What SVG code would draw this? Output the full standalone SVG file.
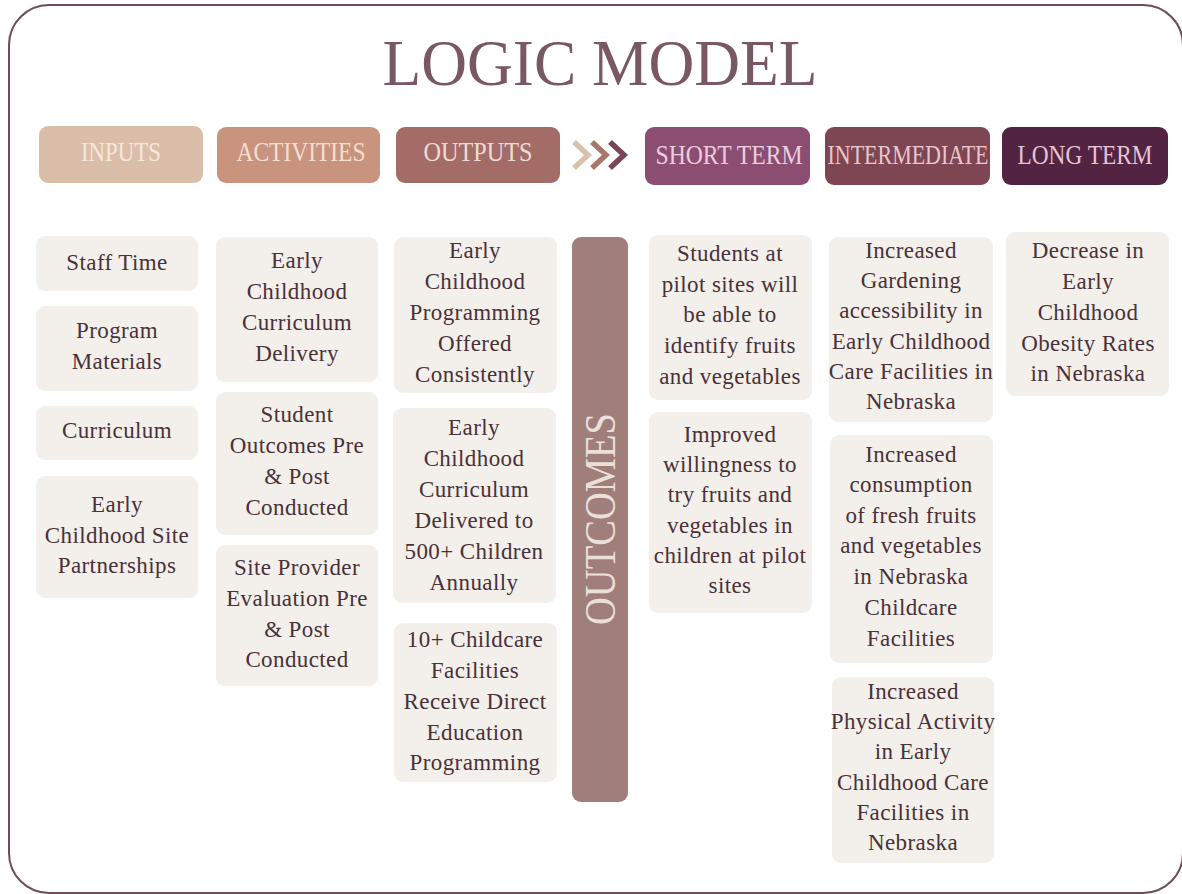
<svg xmlns="http://www.w3.org/2000/svg" width="1182" height="894" viewBox="0 0 1182 894">
  <defs>
    <style>
      .frame { fill: #ffffff; stroke: #6e4d58; stroke-width: 2; }
      .title { font-family: "Liberation Serif", "DejaVu Serif", serif; font-size: 66px; fill: #7a5862; }
      .head { font-family: "Liberation Serif", "DejaVu Serif", serif; font-size: 27px; text-anchor: middle; }
      .card { fill: #f3efea; }
      .txt { font-family: "Liberation Serif", "DejaVu Serif", serif; font-size: 23px; fill: #4a3139; text-anchor: middle; letter-spacing: 0.4px; }
      .chev { fill: none; stroke-width: 5.5; stroke-linejoin: miter; }
      .bar { fill: #a07f7b; }
      .bartxt { font-family: "Liberation Serif", "DejaVu Serif", serif; font-size: 44px; fill: #eadfd9; text-anchor: middle; }
    </style>
  </defs>

  <!-- page frame -->
  <rect class="frame" x="9" y="5" width="1174" height="888" rx="40"/>

  <!-- heading -->
  <text class="title" x="600" y="85" text-anchor="middle" textLength="435" lengthAdjust="spacingAndGlyphs">LOGIC MODEL</text>

  <!-- column headers -->
  <g id="hdr-inputs">
    <rect x="39" y="126" width="164" height="57" rx="9" fill="#dbbea9"/>
    <text class="head" x="121" y="161" fill="#f4e8dd" textLength="80" lengthAdjust="spacingAndGlyphs">INPUTS</text>
  </g>
  <g id="hdr-activities">
    <rect x="217" y="127" width="163" height="56" rx="9" fill="#c9947d"/>
    <text class="head" x="301" y="161" fill="#f3dfd2" textLength="129" lengthAdjust="spacingAndGlyphs">ACTIVITIES</text>
  </g>
  <g id="hdr-outputs">
    <rect x="396" y="127" width="164" height="56" rx="9" fill="#a46c67"/>
    <text class="head" x="478" y="161" fill="#efdbd5" textLength="109" lengthAdjust="spacingAndGlyphs">OUTPUTS</text>
  </g>
  <g id="hdr-short">
    <rect x="645" y="127" width="165" height="58" rx="9" fill="#8c4d72"/>
    <text class="head" x="729" y="164" fill="#ebcddc" textLength="147" lengthAdjust="spacingAndGlyphs">SHORT TERM</text>
  </g>
  <g id="hdr-intermediate">
    <rect x="825" y="127" width="165" height="58" rx="9" fill="#7e4653"/>
    <text class="head" x="908" y="164" fill="#e8c6cc" textLength="161" lengthAdjust="spacingAndGlyphs">INTERMEDIATE</text>
  </g>
  <g id="hdr-long">
    <rect x="1002" y="127" width="166" height="58" rx="9" fill="#522441"/>
    <text class="head" x="1085" y="164" fill="#e4c4d4" textLength="135" lengthAdjust="spacingAndGlyphs">LONG TERM</text>
  </g>

  <!-- flow chevrons between outputs and outcomes -->
  <g id="connectors">
    <polyline class="chev" stroke="#d9c2ab" points="574,142 588,155 574,168"/>
    <polyline class="chev" stroke="#a8776d" points="592,142 606,155 592,168"/>
    <polyline class="chev" stroke="#7a4459" points="610,142 624,155 610,168"/>
  </g>

  <!-- inputs -->
  <g id="in-staff">
    <rect class="card" x="36" y="236" width="162" height="55" rx="9"/>
    <text class="txt" x="117" y="270">Staff Time</text>
  </g>
  <g id="in-materials">
    <rect class="card" x="36" y="306" width="162" height="85" rx="9"/>
    <text class="txt" x="117" y="338">Program</text>
    <text class="txt" x="117" y="369">Materials</text>
  </g>
  <g id="in-curriculum">
    <rect class="card" x="36" y="406" width="162" height="54" rx="9"/>
    <text class="txt" x="117" y="438">Curriculum</text>
  </g>
  <g id="in-partnerships">
    <rect class="card" x="36" y="476" width="162" height="122" rx="9"/>
    <text class="txt" x="117" y="512">Early</text>
    <text class="txt" x="117" y="543">Childhood Site</text>
    <text class="txt" x="117" y="573">Partnerships</text>
  </g>

  <!-- activities -->
  <g id="act-delivery">
    <rect class="card" x="216" y="237" width="162" height="145" rx="9"/>
    <text class="txt" x="297" y="268">Early</text>
    <text class="txt" x="297" y="299">Childhood</text>
    <text class="txt" x="297" y="330">Curriculum</text>
    <text class="txt" x="297" y="361">Delivery</text>
  </g>
  <g id="act-student">
    <rect class="card" x="216" y="392" width="162" height="143" rx="9"/>
    <text class="txt" x="297" y="422">Student</text>
    <text class="txt" x="297" y="453">Outcomes Pre</text>
    <text class="txt" x="297" y="484">&amp; Post</text>
    <text class="txt" x="297" y="515">Conducted</text>
  </g>
  <g id="act-provider">
    <rect class="card" x="216" y="545" width="162" height="141" rx="9"/>
    <text class="txt" x="297" y="575">Site Provider</text>
    <text class="txt" x="297" y="606">Evaluation Pre</text>
    <text class="txt" x="297" y="637">&amp; Post</text>
    <text class="txt" x="297" y="667">Conducted</text>
  </g>

  <!-- outputs -->
  <g id="out-programming">
    <rect class="card" x="394" y="237" width="163" height="156" rx="9"/>
    <text class="txt" x="475" y="258">Early</text>
    <text class="txt" x="475" y="289">Childhood</text>
    <text class="txt" x="475" y="320">Programming</text>
    <text class="txt" x="475" y="351">Offered</text>
    <text class="txt" x="475" y="382">Consistently</text>
  </g>
  <g id="out-children">
    <rect class="card" x="393" y="408" width="163" height="195" rx="9"/>
    <text class="txt" x="474" y="435">Early</text>
    <text class="txt" x="474" y="466">Childhood</text>
    <text class="txt" x="474" y="497">Curriculum</text>
    <text class="txt" x="474" y="528">Delivered to</text>
    <text class="txt" x="474" y="559">500+ Children</text>
    <text class="txt" x="474" y="590">Annually</text>
  </g>
  <g id="out-facilities">
    <rect class="card" x="394" y="623" width="163" height="159" rx="9"/>
    <text class="txt" x="475" y="647">10+ Childcare</text>
    <text class="txt" x="475" y="678">Facilities</text>
    <text class="txt" x="475" y="709">Receive Direct</text>
    <text class="txt" x="475" y="740">Education</text>
    <text class="txt" x="475" y="770">Programming</text>
  </g>

  <!-- outcomes divider -->
  <g id="outcomes-bar">
    <rect class="bar" x="572" y="237" width="56" height="565" rx="9"/>
    <text class="bartxt" transform="translate(615,519) rotate(-90)" x="0" y="0" textLength="212" lengthAdjust="spacingAndGlyphs">OUTCOMES</text>
  </g>

  <!-- short term -->
  <g id="st-identify">
    <rect class="card" x="649" y="235" width="163" height="165" rx="9"/>
    <text class="txt" x="730" y="261">Students at</text>
    <text class="txt" x="730" y="292">pilot sites will</text>
    <text class="txt" x="730" y="322">be able to</text>
    <text class="txt" x="730" y="353">identify fruits</text>
    <text class="txt" x="730" y="384">and vegetables</text>
  </g>
  <g id="st-willingness">
    <rect class="card" x="649" y="412" width="163" height="201" rx="9"/>
    <text class="txt" x="730" y="442">Improved</text>
    <text class="txt" x="730" y="472">willingness to</text>
    <text class="txt" x="730" y="502">try fruits and</text>
    <text class="txt" x="730" y="533">vegetables in</text>
    <text class="txt" x="730" y="563">children at pilot</text>
    <text class="txt" x="730" y="593">sites</text>
  </g>

  <!-- intermediate -->
  <g id="im-gardening">
    <rect class="card" x="829" y="237" width="164" height="185" rx="9"/>
    <text class="txt" x="911" y="258">Increased</text>
    <text class="txt" x="911" y="288">Gardening</text>
    <text class="txt" x="911" y="318">accessibility in</text>
    <text class="txt" x="911" y="349">Early Childhood</text>
    <text class="txt" x="911" y="379">Care Facilities in</text>
    <text class="txt" x="911" y="409">Nebraska</text>
  </g>
  <g id="im-consumption">
    <rect class="card" x="830" y="435" width="163" height="228" rx="9"/>
    <text class="txt" x="911" y="462">Increased</text>
    <text class="txt" x="911" y="492">consumption</text>
    <text class="txt" x="911" y="523">of fresh fruits</text>
    <text class="txt" x="911" y="553">and vegetables</text>
    <text class="txt" x="911" y="584">in Nebraska</text>
    <text class="txt" x="911" y="615">Childcare</text>
    <text class="txt" x="911" y="646">Facilities</text>
  </g>
  <g id="im-activity">
    <rect class="card" x="832" y="677" width="162" height="186" rx="9"/>
    <text class="txt" x="913" y="699">Increased</text>
    <text class="txt" x="913" y="729">Physical Activity</text>
    <text class="txt" x="913" y="759">in Early</text>
    <text class="txt" x="913" y="790">Childhood Care</text>
    <text class="txt" x="913" y="820">Facilities in</text>
    <text class="txt" x="913" y="850">Nebraska</text>
  </g>

  <!-- long term -->
  <g id="lt-obesity">
    <rect class="card" x="1006" y="232" width="163" height="164" rx="9"/>
    <text class="txt" x="1088" y="258">Decrease in</text>
    <text class="txt" x="1088" y="289">Early</text>
    <text class="txt" x="1088" y="320">Childhood</text>
    <text class="txt" x="1088" y="351">Obesity Rates</text>
    <text class="txt" x="1088" y="381">in Nebraska</text>
  </g>
</svg>
